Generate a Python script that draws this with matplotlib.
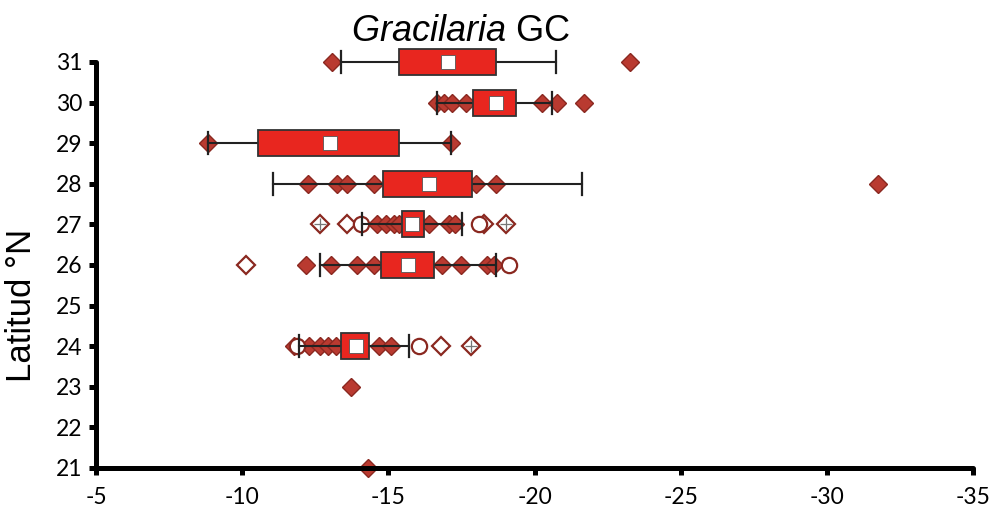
import matplotlib.pyplot as plt
from matplotlib.patches import Rectangle

plt.rcParams['axes.unicode_minus'] = False
plt.rcParams['mathtext.fontset'] = 'custom'
plt.rcParams['mathtext.rm'] = 'Liberation Sans'
plt.rcParams['mathtext.it'] = 'Liberation Sans:italic'

# latitude rows that have a box
lat = [31, 30, 29, 28, 27, 26, 24]
q1 = [-15.38, -17.90, -10.53, -14.83, -15.47, -14.75, -13.39]
q3 = [-18.69, -19.37, -15.38, -17.87, -16.23, -16.57, -14.35]
mean = [-17.05, -18.69, -12.99, -16.40, -15.82, -15.66, -13.90]
wlo = [-13.39, -16.68, -8.82, -11.04, -14.10, -12.65, -11.96]
whi = [-20.72, -20.60, -17.14, -21.62, -17.53, -18.68, -15.72]

# individual samples (filled diamonds)
filled = {
    31: [-13.09, -23.28],
    30: [-16.67, -16.91, -17.18, -17.66, -20.26, -20.77, -21.69],
    29: [-8.82, -17.14],
    28: [-12.24, -13.26, -13.57, -14.52, -18.00, -18.69, -31.76],
    27: [-14.62, -14.92, -15.20, -15.37, -16.40, -17.08, -17.29],
    26: [-12.20, -13.05, -13.94, -14.52, -16.85, -17.48, -18.38, -18.62],
    24: [-11.79, -12.30, -12.65, -12.92, -13.21, -14.69, -15.09],
    23: [-13.74],
    21: [-14.32],
}
# outliers (open circles), open diamonds and extremes (crossed diamonds)
out_circle = {27: [-14.06, -18.10], 26: [-19.13], 24: [-11.89, -16.06]}
out_diamond = {27: [-13.58, -18.27], 26: [-10.14], 24: [-16.80]}
extreme = {27: [-12.65, -19.02], 24: [-17.82]}

box_red = '#e8261f'
dia_red = '#b93a30'
dia_edge = '#8a2820'
dark = '#222222'

fig = plt.figure(figsize=(9.92, 5.18), dpi=100)
ax = fig.add_axes([96 / 992, 50 / 518, 877 / 992, 406 / 518])

h = 0.64
for y, vals in filled.items():
    ax.plot(vals, [y] * len(vals), 'D', ms=9.5, mfc=dia_red, mec=dia_edge,
            mew=1.0, clip_on=False, zorder=2)
for y, vals in out_diamond.items():
    ax.plot(vals, [y] * len(vals), 'D', ms=9.5, mfc='white', mec=dia_edge,
            mew=1.6, zorder=2)
for y, vals in extreme.items():
    ax.plot(vals, [y] * len(vals), 'D', ms=9.5, mfc='white', mec=dia_edge,
            mew=1.6, zorder=2)
    ax.plot(vals, [y] * len(vals), '+', ms=9, mec='#777777', mew=0.9, zorder=2.1)
for y, vals in out_circle.items():
    ax.plot(vals, [y] * len(vals), 'o', ms=11, mfc='white', mec=dia_edge,
            mew=1.6, zorder=2.2)

for i, y in enumerate(lat):
    ax.plot([wlo[i], whi[i]], [y, y], color=dark, lw=1.5, zorder=3,
            clip_on=False)
    for w in (wlo[i], whi[i]):
        ax.plot([w, w], [y - 0.27, y + 0.27], color=dark, lw=1.6, zorder=3,
                clip_on=False)
    ax.add_patch(Rectangle((q1[i], y - h / 2), q3[i] - q1[i], h,
                           facecolor=box_red, edgecolor='#333333', lw=1.3,
                           zorder=4, clip_on=False))
    ax.plot(mean[i], y, 's', ms=10, mfc='white', mec='#555555', mew=0.6,
            zorder=5, clip_on=False)

ax.set_xlim(-5, -35)
ax.set_ylim(21, 31)
ax.set_xticks(range(-5, -36, -5))
ax.set_yticks(range(21, 32))

for s in ('top', 'right'):
    ax.spines[s].set_visible(False)
for s in ('left', 'bottom'):
    ax.spines[s].set_linewidth(3.6)
    ax.spines[s].set_capstyle('round')
ax.tick_params(direction='out', length=5, width=3.6, color='black',
               labelsize=16.5, pad=5)
ax.tick_params(axis='x', pad=9)
for lab in ax.get_xticklabels() + ax.get_yticklabels():
    lab.set_family('Lato')

ax.set_ylabel('Latitud °N', fontsize=25, family='Liberation Sans')
ax.yaxis.set_label_coords(-0.066, 0.40)
ax.set_title(r'$\it{Gracilaria}$ GC', fontsize=26, family='Liberation Sans',
             pad=15, x=0.416)

fig.savefig('out.png', dpi=100)
